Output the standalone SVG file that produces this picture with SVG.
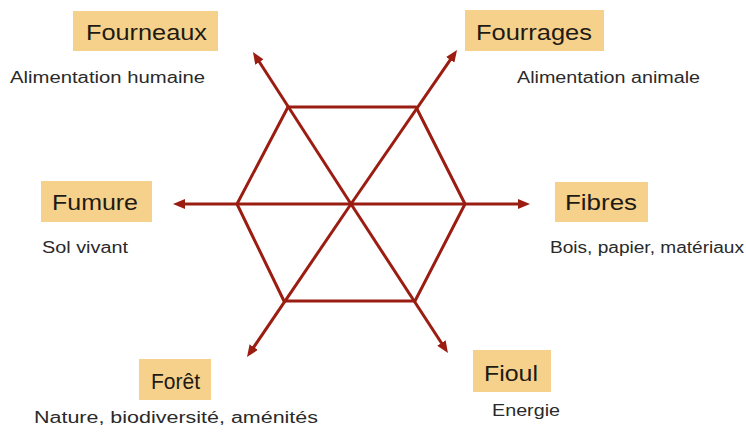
<svg xmlns="http://www.w3.org/2000/svg" width="746" height="433" viewBox="0 0 746 433">
<style>
.box{fill:#F6D18B}
.t{font-family:"Liberation Sans",Arial,sans-serif;font-size:22px;fill:#1e1a14}
.s{font-family:"Liberation Sans",Arial,sans-serif;font-size:16px;fill:#2a2a2a}
.ln{stroke:#9B1D12;stroke-width:3;fill:none;stroke-linejoin:round}
.ar{stroke:#9B1D12;stroke-width:3;fill:none;marker-end:url(#ah)}
</style>
<defs>
<marker id="ah" markerUnits="userSpaceOnUse" viewBox="0 0 12 10" markerWidth="12" markerHeight="10" refX="4" refY="5" orient="auto">
<path d="M0,0 L12,5 L0,10 z" fill="#9B1D12"/>
</marker>
</defs>
<rect width="746" height="433" fill="#ffffff"/>
<g id="connectors">
<polygon class="ln" points="237,204 288,107 416,107 465,204 415,301 284,301"/>
<line class="ar" x1="351" y1="204" x2="181" y2="204"/>
<line class="ar" x1="351" y1="204" x2="522" y2="204"/>
<line class="ar" x1="351" y1="204" x2="257.3" y2="58.7"/>
<line class="ar" x1="351" y1="204" x2="443.6" y2="346.3"/>
<line class="ar" x1="351" y1="204" x2="452.5" y2="56.6"/>
<line class="ar" x1="351" y1="204" x2="251.5" y2="350.4"/>
</g>
<g id="fourneaux">
<rect class="box" x="73" y="11" width="145" height="40"/>
<text class="t" x="86" y="40" textLength="121" lengthAdjust="spacingAndGlyphs">Fourneaux</text>
<text class="s" x="10" y="83" textLength="195" lengthAdjust="spacingAndGlyphs">Alimentation humaine</text>
</g>
<g id="fourrages">
<rect class="box" x="465" y="10" width="139" height="41"/>
<text class="t" x="476" y="40" textLength="116" lengthAdjust="spacingAndGlyphs">Fourrages</text>
<text class="s" x="517" y="83" textLength="183" lengthAdjust="spacingAndGlyphs">Alimentation animale</text>
</g>
<g id="fumure">
<rect class="box" x="41" y="181" width="111" height="41"/>
<text class="t" x="52" y="210" textLength="86" lengthAdjust="spacingAndGlyphs">Fumure</text>
<text class="s" x="42" y="253" textLength="86" lengthAdjust="spacingAndGlyphs">Sol vivant</text>
</g>
<g id="fibres">
<rect class="box" x="555" y="182" width="93" height="40"/>
<text class="t" x="565" y="210" textLength="72" lengthAdjust="spacingAndGlyphs">Fibres</text>
<text class="s" x="550" y="253" textLength="194" lengthAdjust="spacingAndGlyphs">Bois, papier, matériaux</text>
</g>
<g id="foret">
<rect class="box" x="139" y="359" width="72" height="41"/>
<text class="t" x="151" y="389" textLength="49" lengthAdjust="spacingAndGlyphs">Forêt</text>
<text class="s" x="34" y="423" textLength="284" lengthAdjust="spacingAndGlyphs">Nature, biodiversité, aménités</text>
</g>
<g id="fioul">
<rect class="box" x="473" y="350" width="78" height="42"/>
<text class="t" x="484" y="381" textLength="54" lengthAdjust="spacingAndGlyphs">Fioul</text>
<text class="s" x="492" y="416" textLength="68" lengthAdjust="spacingAndGlyphs">Energie</text>
</g>
</svg>
